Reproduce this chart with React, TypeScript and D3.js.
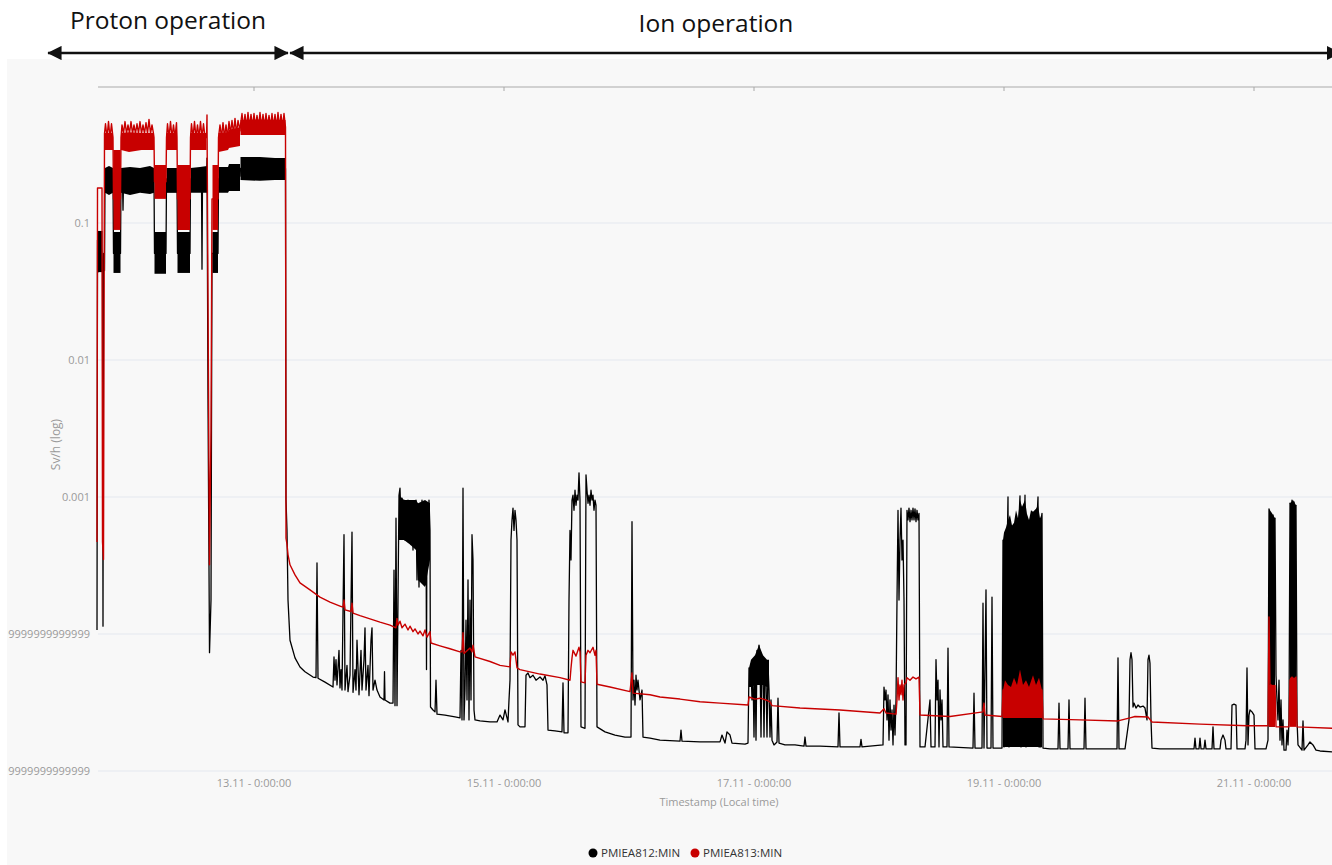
import React from "react";
import * as d3 from "d3";

type Pt = [number, number];
type BandPt = [number, number, number];

// ---- axis / legend data ----
const xTickDays = [13, 15, 17, 19, 21];
const xTickLabels = ["13.11 - 0:00:00", "15.11 - 0:00:00", "17.11 - 0:00:00", "19.11 - 0:00:00", "21.11 - 0:00:00"];
const yTickValues = [1e-5, 1e-4, 1e-3, 1e-2, 1e-1];
const yTickLabels = ["0.000009999999999999999", "0.00009999999999999999", "0.001", "0.01", "0.1"];
const seriesNames = ["PMIEA812:MIN", "PMIEA813:MIN"];
const seriesColors = ["#000000", "#c80000"];
const periodLabels = ["Proton operation", "Ion operation"];
const periodStart = [11.352, 13.288];
const periodEnd = [13.272, 21.69];
const xDomain = [11.752, 21.624];
const yDomain = [1e-5, 1];

// ---- PMIEA812 (black) ----
const protonBlack: Pt[] = [
  [11.744, 1.07e-4], [11.748, 0.075], [11.752, 0.044], [11.77, 0.085], [11.788, 0.05], [11.792, 1.14e-4],
  [11.796, 0.06], [11.804, 0.045], [11.808, 0.21], [11.872, 0.2], [11.876, 0.06], [11.932, 0.06],
  [11.936, 0.21], [11.948, 0.2], [11.952, 0.124], [11.956, 0.2], [12.2, 0.21], [12.204, 0.06],
  [12.296, 0.06], [12.3, 0.21], [12.384, 0.21], [12.388, 0.06], [12.488, 0.06], [12.492, 0.21],
  [12.58, 0.21], [12.584, 0.046], [12.588, 0.21], [12.62, 0.21], [12.624, 0.298], [12.632, 0.00513],
  [12.644, 7.3e-5], [12.656, 1.77e-4], [12.664, 0.06], [12.712, 0.06], [12.716, 0.21], [12.888, 0.22],
  [12.892, 0.25], [13.252, 0.25], [13.256, 9.5e-4],
];

const ionBlack: Pt[] = [
  [13.264, 5.7e-4], [13.272, 1.77e-4], [13.288, 9.0e-5], [13.328, 6.7e-5], [13.368, 5.74e-5], [13.408, 5.3e-5],
  [13.472, 4.85e-5], [13.496, 4.8e-5], [13.504, 3.3e-4], [13.512, 4.75e-5], [13.568, 4.45e-5], [13.632, 4.1e-5],
  [13.64, 6.8e-5], [13.648, 4.6e-5], [13.656, 6.5e-5], [13.664, 4.25e-5], [13.68, 7.6e-5], [13.688, 4.04e-5],
  [13.696, 5.5e-5], [13.704, 3.9e-5], [13.72, 5.3e-4], [13.728, 3.9e-5], [13.744, 5.9e-5], [13.752, 3.8e-5],
  [13.768, 5.0e-5], [13.784, 5.55e-4], [13.792, 3.75e-5], [13.808, 5.5e-5], [13.816, 3.9e-5], [13.824, 9.0e-5],
  [13.84, 3.6e-5], [13.856, 7.6e-5], [13.864, 3.9e-5], [13.88, 6.5e-5], [13.888, 1.11e-4], [13.896, 3.9e-5],
  [13.912, 5.9e-5], [13.92, 3.55e-5], [13.936, 9.0e-5], [13.944, 1.11e-4], [13.952, 3.9e-5], [13.968, 4.6e-5],
  [13.984, 3.9e-5], [14.008, 3.47e-5], [14.04, 3.3e-5], [14.044, 5.3e-5], [14.048, 3.3e-5], [14.088, 3.13e-5],
  [14.112, 3.13e-5], [14.12, 2.93e-4], [14.128, 3.0e-5], [14.136, 7.0e-4], [14.144, 3.0e-5], [14.152, 1.77e-4],
  [14.16, 1.03e-3], [14.168, 1.16e-3], [14.176, 6.8e-4], [14.184, 9.8e-4], [14.192, 5.3e-4], [14.2, 9.5e-4],
  [14.208, 4.85e-4], [14.216, 8.7e-4], [14.224, 6.25e-4], [14.232, 9.5e-4], [14.24, 4.85e-4], [14.248, 8.0e-4],
  [14.256, 4.5e-4], [14.264, 8.7e-4], [14.272, 4.1e-4], [14.28, 8.3e-4], [14.288, 5.7e-4], [14.296, 9.5e-4],
  [14.304, 2.48e-4], [14.312, 8.7e-4], [14.32, 2.2e-4], [14.328, 8.0e-4], [14.336, 2.6e-4], [14.344, 9.5e-4],
  [14.352, 3.47e-4], [14.36, 8.7e-4], [14.368, 2.28e-4], [14.376, 8.0e-4], [14.38, 5.5e-5], [14.384, 8.7e-4],
  [14.392, 4.85e-4], [14.4, 9.5e-4], [14.408, 5.7e-4], [14.412, 2.93e-5], [14.432, 2.79e-5], [14.448, 2.7e-5],
  [14.456, 4.6e-5], [14.464, 2.6e-5], [14.528, 2.56e-5], [14.608, 2.48e-5], [14.648, 2.44e-5], [14.656, 7.6e-5],
  [14.664, 2.36e-5], [14.672, 1.16e-3], [14.68, 2.36e-5], [14.688, 3.9e-5], [14.696, 1.26e-4], [14.704, 3.3e-5],
  [14.712, 2.48e-4], [14.72, 2.36e-5], [14.728, 1.77e-4], [14.736, 3.3e-5], [14.744, 5.3e-4], [14.752, 3.47e-4],
  [14.76, 2.79e-5], [14.768, 2.36e-5], [14.808, 2.32e-5], [14.888, 2.28e-5], [14.944, 2.28e-5], [14.968, 2.56e-5],
  [14.992, 2.36e-5], [15.008, 2.79e-5], [15.032, 2.28e-5], [15.04, 3.3e-5], [15.048, 4.6e-5], [15.056, 4.85e-4],
  [15.064, 6.8e-4], [15.072, 8.3e-4], [15.08, 5.7e-4], [15.088, 8.0e-4], [15.096, 6.8e-4], [15.104, 4.85e-4],
  [15.112, 2.17e-5], [15.128, 2.1e-5], [15.168, 2.1e-5], [15.176, 5.0e-5], [15.192, 5.2e-5], [15.208, 4.8e-5],
  [15.232, 5.0e-5], [15.256, 4.6e-5], [15.288, 4.85e-5], [15.312, 4.6e-5], [15.328, 4.95e-5], [15.344, 4.25e-5],
  [15.352, 1.99e-5], [15.408, 1.96e-5], [15.464, 1.93e-5], [15.472, 4.4e-5], [15.48, 1.9e-5], [15.512, 1.9e-5],
  [15.52, 1.77e-4], [15.528, 5.7e-4], [15.536, 3.47e-4], [15.544, 9.5e-4], [15.552, 1.03e-3], [15.56, 8.0e-4],
  [15.568, 1.12e-3], [15.576, 8.7e-4], [15.584, 1.03e-3], [15.592, 9.5e-4], [15.6, 1.5e-3], [15.608, 9.5e-4],
  [15.616, 2.1e-5], [15.648, 2.05e-5], [15.656, 1.45e-3], [15.664, 1.12e-3], [15.672, 9.0e-4], [15.68, 1.03e-3],
  [15.688, 8.7e-4], [15.696, 1.12e-3], [15.704, 9.5e-4], [15.712, 1.03e-3], [15.72, 8.0e-4], [15.728, 9.5e-4],
  [15.736, 8.7e-4], [15.744, 2.1e-5], [15.808, 1.93e-5], [15.888, 1.83e-5], [15.968, 1.77e-5], [16.016, 1.77e-5],
  [16.024, 6.6e-4], [16.032, 3.3e-5], [16.04, 4.6e-5], [16.048, 3.03e-5], [16.056, 5.0e-5], [16.064, 3.9e-5],
  [16.072, 4.6e-5], [16.088, 3.3e-5], [16.104, 3.9e-5], [16.112, 1.77e-5], [16.168, 1.74e-5], [16.248, 1.68e-5],
  [16.408, 1.65e-5], [16.416, 1.99e-5], [16.424, 1.65e-5], [16.568, 1.63e-5], [16.728, 1.63e-5], [16.744, 1.83e-5],
  [16.768, 1.6e-5], [16.784, 1.93e-5], [16.808, 1.83e-5], [16.824, 1.6e-5], [16.928, 1.57e-5], [16.952, 1.6e-5],
  [16.96, 5.65e-5], [16.968, 4.6e-5], [16.976, 5.9e-5], [16.984, 3.3e-5], [16.992, 5.5e-5], [17.0, 1.77e-5],
  [17.008, 6.5e-5], [17.016, 1.68e-5], [17.024, 7.6e-5], [17.032, 5.0e-5], [17.04, 8.3e-5], [17.048, 6.5e-5],
  [17.056, 1.77e-5], [17.064, 7.0e-5], [17.072, 5.9e-5], [17.08, 1.77e-5], [17.088, 6.5e-5], [17.096, 4.6e-5],
  [17.104, 1.77e-5], [17.112, 5.9e-5], [17.12, 3.9e-5], [17.128, 1.77e-5], [17.136, 3.3e-5], [17.144, 1.68e-5],
  [17.16, 1.55e-5], [17.184, 1.63e-5], [17.192, 3.4e-5], [17.2, 1.6e-5], [17.248, 1.55e-5], [17.328, 1.55e-5],
  [17.4, 1.52e-5], [17.408, 1.77e-5], [17.416, 1.52e-5], [17.528, 1.52e-5], [17.672, 1.5e-5], [17.68, 2.65e-5],
  [17.688, 1.5e-5], [17.848, 1.5e-5], [17.856, 1.7e-5], [17.864, 1.5e-5], [18.032, 1.55e-5], [18.04, 4.1e-5],
  [18.048, 3.3e-5], [18.056, 3.9e-5], [18.064, 2.36e-5], [18.072, 3.6e-5], [18.08, 1.68e-5], [18.088, 3.3e-5],
  [18.096, 1.99e-5], [18.104, 2.79e-5], [18.112, 1.55e-5], [18.12, 3.03e-5], [18.128, 1.83e-5], [18.136, 3.3e-5],
  [18.144, 1.77e-4], [18.152, 8.0e-4], [18.16, 1.77e-4], [18.168, 4.85e-4], [18.176, 8.3e-4], [18.184, 3.47e-4],
  [18.192, 4.85e-4], [18.2, 1.77e-4], [18.208, 1.55e-5], [18.216, 1.55e-5], [18.224, 8.0e-4], [18.232, 6.8e-4],
  [18.24, 8.3e-4], [18.248, 6.6e-4], [18.256, 8.0e-4], [18.264, 6.8e-4], [18.272, 8.3e-4], [18.28, 6.8e-4],
  [18.288, 8.2e-4], [18.296, 6.6e-4], [18.304, 8.0e-4], [18.312, 6.8e-4], [18.32, 7.6e-4], [18.328, 1.5e-5],
  [18.368, 1.5e-5], [18.408, 3.3e-5], [18.416, 1.5e-5], [18.448, 1.5e-5], [18.456, 6.5e-5], [18.464, 3.3e-5],
  [18.472, 4.6e-5], [18.48, 1.5e-5], [18.488, 3.9e-5], [18.496, 2.36e-5], [18.504, 3.3e-5], [18.512, 1.5e-5],
  [18.544, 1.5e-5], [18.552, 7.9e-5], [18.56, 1.5e-5], [18.752, 1.47e-5], [18.76, 3.7e-5], [18.768, 1.47e-5],
  [18.824, 1.47e-5], [18.832, 1.68e-4], [18.84, 1.47e-5], [18.856, 2.1e-4], [18.864, 1.47e-5], [18.896, 1.47e-5],
  [18.904, 1.86e-4], [18.912, 1.47e-5], [18.984, 1.47e-5], [18.992, 4.85e-4], [19.0, 1.5e-5], [19.032, 1.0e-3],
  [19.04, 1.5e-5], [19.128, 1.02e-3], [19.136, 1.5e-5], [19.168, 1.03e-3], [19.176, 1.5e-5], [19.272, 1.0e-3],
  [19.28, 1.5e-5], [19.296, 1.5e-5], [19.304, 7.6e-4], [19.312, 1.47e-5], [19.368, 1.45e-5], [19.432, 1.45e-5], [19.44, 3.13e-5],
  [19.448, 1.45e-5], [19.512, 1.45e-5], [19.52, 3.3e-5], [19.528, 1.45e-5], [19.64, 1.45e-5], [19.648, 3.4e-5],
  [19.656, 1.45e-5], [19.904, 1.45e-5], [19.912, 6.7e-5], [19.92, 1.45e-5], [19.968, 1.45e-5], [20.0, 2.36e-5],
  [20.008, 6.5e-5], [20.016, 7.3e-5], [20.024, 6.5e-5], [20.032, 2.93e-5], [20.04, 3.13e-5], [20.056, 2.88e-5],
  [20.072, 3.03e-5], [20.088, 2.93e-5], [20.112, 2.98e-5], [20.128, 2.88e-5], [20.144, 2.36e-5], [20.152, 6.5e-5],
  [20.16, 7.0e-5], [20.168, 6.1e-5], [20.176, 2.36e-5], [20.184, 1.47e-5], [20.248, 1.45e-5], [20.52, 1.45e-5],
  [20.528, 1.74e-5], [20.536, 1.45e-5], [20.56, 1.45e-5], [20.568, 1.74e-5], [20.576, 1.45e-5], [20.6, 1.45e-5],
  [20.608, 1.68e-5], [20.616, 1.45e-5], [20.664, 1.45e-5], [20.672, 2.1e-5], [20.68, 1.45e-5], [20.728, 1.45e-5],
  [20.736, 1.68e-5], [20.752, 1.83e-5], [20.768, 1.68e-5], [20.776, 1.45e-5], [20.816, 1.45e-5], [20.824, 3.03e-5],
  [20.84, 3.08e-5], [20.856, 3.03e-5], [20.864, 1.45e-5], [20.928, 1.45e-5], [20.936, 1.68e-5], [20.944, 5.65e-5],
  [20.952, 1.55e-5], [20.96, 2.56e-5], [20.968, 2.79e-5], [20.984, 2.7e-5], [21.0, 2.56e-5], [21.008, 1.45e-5],
  [21.096, 1.45e-5], [21.112, 1.68e-5], [21.12, 8.2e-4], [21.128, 1.77e-4], [21.136, 7.6e-4], [21.144, 3.47e-4],
  [21.152, 7.4e-4], [21.16, 3.47e-4], [21.168, 7.0e-4], [21.176, 5.0e-5], [21.184, 3.3e-5], [21.192, 2.36e-5],
  [21.2, 4.6e-5], [21.208, 1.68e-5], [21.216, 3.3e-5], [21.224, 1.55e-5], [21.232, 2.36e-5], [21.24, 1.42e-5],
  [21.256, 1.42e-5], [21.264, 1.99e-5], [21.272, 1.55e-5], [21.28, 2.36e-5], [21.288, 9.0e-4], [21.296, 1.77e-4],
  [21.304, 9.5e-4], [21.312, 3.47e-4], [21.32, 9.2e-4], [21.328, 1.77e-4], [21.336, 8.7e-4], [21.344, 2.36e-5],
  [21.352, 1.55e-5], [21.384, 1.42e-5], [21.392, 2.32e-5], [21.4, 1.42e-5], [21.432, 1.55e-5], [21.448, 1.63e-5],
  [21.472, 1.55e-5], [21.496, 1.42e-5], [21.528, 1.4e-5], [21.624, 1.38e-5],
];

// dense min/max envelopes [day, min, max]
const blackBands: BandPt[][] = [
  [[11.752, 0.0438, 0.0875], [11.788, 0.0438, 0.0875]],
  [[11.808, 0.166, 0.252], [11.84, 0.16, 0.261], [11.872, 0.166, 0.252]],
  [[11.876, 0.0432, 0.086], [11.932, 0.0432, 0.086]],
  [[11.936, 0.166, 0.252], [12.008, 0.16, 0.256], [12.088, 0.166, 0.252], [12.168, 0.163, 0.261], [12.2, 0.166, 0.252]],
  [[12.204, 0.0426, 0.086], [12.296, 0.0426, 0.086]],
  [[12.3, 0.166, 0.252], [12.384, 0.166, 0.252]],
  [[12.388, 0.0432, 0.086], [12.488, 0.0432, 0.086]],
  [[12.492, 0.166, 0.252], [12.568, 0.166, 0.256], [12.624, 0.166, 0.261]],
  [[12.668, 0.0432, 0.086], [12.712, 0.0432, 0.086]],
  [[12.716, 0.166, 0.256], [12.792, 0.166, 0.256], [12.8, 0.171, 0.27], [12.888, 0.171, 0.27]],
  [[12.892, 0.206, 0.303], [13.048, 0.203, 0.303], [13.168, 0.206, 0.298], [13.252, 0.206, 0.298]],
  [[14.16, 4.85e-4, 1.03e-3], [14.2, 4.85e-4, 9.5e-4], [14.248, 4.5e-4, 9.5e-4], [14.296, 4.1e-4, 9.5e-4],
   [14.312, 2.48e-4, 9.0e-4], [14.368, 2.2e-4, 9.5e-4], [14.408, 3.47e-4, 9.0e-4]],
  [[16.96, 4.1e-5, 5.65e-5], [16.976, 4.1e-5, 6.5e-5], [17.008, 4.25e-5, 7.0e-5], [17.04, 4.25e-5, 8.3e-5],
   [17.072, 4.25e-5, 7.0e-5], [17.104, 4.1e-5, 6.5e-5], [17.12, 4.1e-5, 6.5e-5]],
  [[18.992, 1.5e-5, 4.85e-4], [19.0, 1.5e-5, 5.5e-4], [19.016, 1.5e-5, 6.0e-4], [19.032, 1.5e-5, 6.8e-4],
   [19.048, 1.5e-5, 7.4e-4], [19.064, 1.5e-5, 6.2e-4], [19.08, 1.5e-5, 6.5e-4], [19.096, 1.5e-5, 8.0e-4],
   [19.112, 1.5e-5, 7.0e-4], [19.128, 1.5e-5, 9.5e-4], [19.144, 1.5e-5, 8.5e-4], [19.168, 1.5e-5, 9.5e-4],
   [19.184, 1.5e-5, 7.5e-4], [19.2, 1.5e-5, 6.8e-4], [19.216, 1.5e-5, 8.0e-4], [19.232, 1.5e-5, 7.8e-4],
   [19.256, 1.5e-5, 8.2e-4], [19.272, 1.5e-5, 8.7e-4], [19.288, 1.5e-5, 7.0e-4], [19.304, 1.5e-5, 7.6e-4]],
  [[21.12, 2.1e-5, 8.2e-4], [21.144, 2.1e-5, 7.6e-4], [21.168, 2.1e-5, 7.0e-4]],
  [[21.288, 2.3e-5, 9.0e-4], [21.312, 2.3e-5, 9.5e-4], [21.336, 2.3e-5, 8.7e-4]],
];

// ---- PMIEA813 (red) ----
const protonRed: Pt[] = [
  [11.744, 4.7e-4], [11.748, 0.18], [11.784, 0.18], [11.788, 4.7e-4], [11.796, 3.5e-4], [11.804, 0.45],
  [11.812, 0.53], [11.824, 0.42], [11.836, 0.55], [11.848, 0.42], [11.86, 0.53], [11.872, 0.42],
  [11.876, 0.15], [11.932, 0.15], [11.936, 0.42],
  [11.944, 0.52], [11.956, 0.45], [11.968, 0.55], [11.98, 0.45], [11.992, 0.52], [12.004, 0.45], [12.016, 0.55],
  [12.028, 0.45], [12.04, 0.52], [12.052, 0.45], [12.064, 0.53], [12.076, 0.45], [12.088, 0.55], [12.1, 0.45],
  [12.112, 0.52], [12.124, 0.45], [12.136, 0.54], [12.148, 0.45], [12.16, 0.57], [12.172, 0.45], [12.184, 0.52],
  [12.196, 0.45], [12.2, 0.42], [12.204, 0.2], [12.296, 0.2], [12.3, 0.42],
  [12.308, 0.53], [12.32, 0.42], [12.332, 0.55], [12.344, 0.42], [12.356, 0.52], [12.368, 0.42], [12.38, 0.54],
  [12.384, 0.42], [12.388, 0.15], [12.488, 0.15], [12.492, 0.42],
  [12.5, 0.53], [12.512, 0.42], [12.524, 0.55], [12.536, 0.42], [12.548, 0.52], [12.56, 0.42], [12.572, 0.55],
  [12.584, 0.42], [12.596, 0.53], [12.608, 0.42], [12.62, 0.42], [12.624, 0.614], [12.632, 0.0275],
  [12.644, 3.2e-4], [12.656, 3.1e-3], [12.664, 0.15], [12.712, 0.15], [12.716, 0.42],
  [12.728, 0.52], [12.74, 0.42], [12.752, 0.54], [12.764, 0.42], [12.776, 0.52], [12.788, 0.42], [12.8, 0.55],
  [12.812, 0.45], [12.824, 0.56], [12.836, 0.45], [12.848, 0.58], [12.86, 0.45], [12.872, 0.56], [12.888, 0.47],
  [12.892, 0.52], [12.904, 0.63], [12.916, 0.5], [12.928, 0.62], [12.94, 0.5], [12.952, 0.64], [12.964, 0.5],
  [12.976, 0.62], [12.988, 0.5], [13.0, 0.63], [13.012, 0.5], [13.024, 0.61], [13.036, 0.5], [13.048, 0.64],
  [13.06, 0.5], [13.072, 0.62], [13.084, 0.5], [13.096, 0.63], [13.108, 0.5], [13.12, 0.61], [13.132, 0.5],
  [13.144, 0.63], [13.156, 0.5], [13.168, 0.62], [13.18, 0.5], [13.192, 0.64], [13.204, 0.5], [13.216, 0.62],
  [13.228, 0.5], [13.24, 0.63], [13.252, 0.5], [13.256, 5.0e-4],
];

const ionRed: Pt[] = [
  [13.264, 4.5e-4], [13.272, 3.8e-4], [13.288, 3.2e-4], [13.328, 2.7e-4], [13.368, 2.36e-4], [13.448, 2.1e-4],
  [13.528, 1.86e-4], [13.608, 1.71e-4], [13.688, 1.6e-4], [13.712, 1.57e-4], [13.72, 1.77e-4], [13.728, 1.5e-4],
  [13.776, 1.46e-4], [13.784, 1.68e-4], [13.792, 1.42e-4], [13.848, 1.36e-4], [13.928, 1.29e-4], [14.008, 1.22e-4],
  [14.088, 1.16e-4], [14.136, 1.11e-4], [14.144, 1.3e-4], [14.152, 1.16e-4], [14.168, 1.24e-4], [14.184, 1.11e-4],
  [14.208, 1.18e-4], [14.232, 1.07e-4], [14.248, 1.14e-4], [14.272, 1.04e-4], [14.288, 1.09e-4], [14.312, 1.0e-4],
  [14.328, 1.05e-4], [14.352, 9.7e-5], [14.368, 1.07e-4], [14.384, 9.5e-5], [14.408, 1.04e-4], [14.416, 8.6e-5],
  [14.488, 8.2e-5], [14.568, 7.8e-5], [14.648, 7.4e-5], [14.664, 7.4e-5], [14.672, 1.02e-4], [14.68, 7.2e-5],
  [14.728, 7.9e-5], [14.744, 7.4e-5], [14.752, 8.3e-5], [14.768, 6.8e-5], [14.888, 6.3e-5], [14.968, 5.9e-5],
  [15.048, 5.75e-5], [15.056, 7.4e-5], [15.072, 7.0e-5], [15.088, 7.4e-5], [15.104, 5.65e-5], [15.128, 5.5e-5],
  [15.288, 5.1e-5], [15.448, 4.8e-5], [15.528, 4.6e-5], [15.536, 5.65e-5], [15.544, 6.7e-5], [15.552, 7.6e-5],
  [15.576, 6.9e-5], [15.6, 8.0e-5], [15.608, 7.4e-5], [15.616, 4.47e-5], [15.648, 4.4e-5], [15.656, 7.0e-5],
  [15.672, 7.6e-5], [15.688, 7.3e-5], [15.712, 8.0e-5], [15.728, 7.0e-5], [15.736, 7.6e-5], [15.744, 4.3e-5],
  [15.848, 4.1e-5], [16.008, 3.8e-5], [16.024, 5.2e-5], [16.032, 3.7e-5], [16.168, 3.6e-5], [16.248, 3.47e-5],
  [16.408, 3.35e-5], [16.568, 3.2e-5], [16.728, 3.13e-5], [16.952, 3.03e-5], [16.96, 3.47e-5], [17.008, 3.35e-5],
  [17.048, 3.4e-5], [17.096, 3.3e-5], [17.128, 3.2e-5], [17.144, 3.0e-5], [17.368, 2.88e-5], [17.688, 2.79e-5],
  [18.008, 2.65e-5], [18.04, 2.85e-5], [18.056, 2.65e-5], [18.136, 2.6e-5], [18.144, 3.3e-5], [18.152, 4.8e-5],
  [18.16, 3.3e-5], [18.168, 4.25e-5], [18.176, 3.6e-5], [18.184, 4.6e-5], [18.192, 3.3e-5], [18.2, 4.25e-5],
  [18.216, 4.4e-5], [18.224, 4.8e-5], [18.248, 4.6e-5], [18.272, 4.85e-5], [18.296, 4.7e-5], [18.32, 4.85e-5],
  [18.328, 2.56e-5], [18.568, 2.5e-5], [18.832, 2.7e-5], [18.84, 3.13e-5], [18.848, 2.56e-5], [18.984, 2.5e-5],
  [18.992, 3.9e-5], [19.304, 3.9e-5], [19.312, 2.4e-5], [19.608, 2.36e-5], [19.912, 2.32e-5], [20.008, 2.44e-5],
  [20.048, 2.5e-5], [20.152, 2.48e-5], [20.184, 2.28e-5], [20.568, 2.2e-5], [20.944, 2.14e-5], [21.112, 2.14e-5],
  [21.12, 1.33e-4], [21.128, 3.9e-5], [21.136, 4.25e-5], [21.152, 4.04e-5], [21.168, 4.2e-5], [21.176, 2.1e-5],
  [21.28, 2.1e-5], [21.288, 4.6e-5], [21.304, 4.85e-5], [21.32, 4.6e-5], [21.336, 4.85e-5], [21.344, 2.1e-5],
  [21.624, 2.05e-5],
];

const redBands: BandPt[][] = [
  [[11.804, 0.341, 0.454], [11.872, 0.341, 0.454]],
  [[11.876, 0.089, 0.341], [11.932, 0.089, 0.341]],
  [[11.936, 0.341, 0.454], [12.0, 0.33, 0.46], [12.1, 0.341, 0.454], [12.2, 0.341, 0.454]],
  [[12.204, 0.15, 0.265], [12.296, 0.15, 0.265]],
  [[12.3, 0.341, 0.454], [12.384, 0.341, 0.454]],
  [[12.388, 0.089, 0.265], [12.488, 0.089, 0.265]],
  [[12.492, 0.341, 0.454], [12.62, 0.341, 0.454]],
  [[12.668, 0.089, 0.265], [12.712, 0.089, 0.265]],
  [[12.716, 0.33, 0.454], [12.792, 0.341, 0.46], [12.8, 0.353, 0.48], [12.888, 0.365, 0.5]],
  [[12.892, 0.439, 0.565], [13.048, 0.439, 0.57], [13.252, 0.439, 0.565]],
  [[18.992, 2.44e-5, 3.9e-5], [19.008, 2.44e-5, 4.6e-5], [19.032, 2.44e-5, 4.25e-5], [19.056, 2.44e-5, 4.1e-5],
   [19.08, 2.44e-5, 4.8e-5], [19.104, 2.44e-5, 4.25e-5], [19.128, 2.44e-5, 5.5e-5], [19.152, 2.44e-5, 4.25e-5],
   [19.176, 2.44e-5, 4.6e-5], [19.2, 2.44e-5, 4.1e-5], [19.232, 2.44e-5, 5.0e-5], [19.256, 2.44e-5, 4.25e-5],
   [19.28, 2.44e-5, 4.8e-5], [19.304, 2.44e-5, 3.9e-5]],
  [[21.12, 2.1e-5, 4.25e-5], [21.168, 2.1e-5, 4.25e-5]],
  [[21.288, 2.1e-5, 4.8e-5], [21.336, 2.1e-5, 4.8e-5]],
];

const toDate = (d: number) => new Date(Date.UTC(2018, 10, 1) + (d - 1) * 864e5);

export default function App() {
  const W = 1332, H = 865;
  const left = 98, right = 1332, top = 86, bottom = 771;
  const xs = d3.scaleUtc().domain(xDomain.map(toDate)).range([left, right]);
  const ys = d3.scaleLog().domain(yDomain).range([bottom, top]);
  const line = d3.line<Pt>().x((p) => xs(toDate(p[0]))).y((p) => ys(p[1]));
  const area = d3.area<BandPt>().x((p) => xs(toDate(p[0]))).y0((p) => ys(p[1])).y1((p) => ys(p[2]));
  const black = [...protonBlack, ...ionBlack];
  const red = [...protonRed, ...ionRed];
  const font = "'Open Sans', 'Noto Sans', sans-serif";
  const axisColor = "#9a9a9a";

  return (
    <svg width={W} height={H} style={{ position: "absolute", left: 0, top: 0, background: "#fff" }}>
      <defs>
        <clipPath id="plotClip">
          <rect x={96} y={top - 2} width={right - 96} height={bottom - top + 6} />
        </clipPath>
        <clipPath id="labelClip">
          <rect x={8} y={0} width={W} height={H} />
        </clipPath>
        <marker id="arrowHead" viewBox="0 0 10 10" refX="9.5" refY="5" markerWidth="5.5" markerHeight="5.5" orient="auto-start-reverse">
          <path d="M0,0 L10,5 L0,10 z" fill="#111" />
        </marker>
      </defs>
      <rect x={0} y={0} width={W} height={H} fill="#ffffff" />
      <rect x={7} y={59} width={W - 7} height={H - 59} fill="#f8f8f8" />

      {yTickValues.map((v, i) => (
        <line key={"g" + i} x1={left} x2={right} y1={ys(v)} y2={ys(v)} stroke="#e4e8ef" strokeWidth={1} />
      ))}
      <line x1={left} x2={right} y1={top + 1} y2={top + 1} stroke="#c4c4c4" strokeWidth={1.6} />
      {xTickDays.map((d, i) => (
        <line key={"t" + i} x1={xs(toDate(d))} x2={xs(toDate(d))} y1={top + 1} y2={top + 5} stroke="#a8a8a8" strokeWidth={1} />
      ))}

      <g clipPath="url(#plotClip)">
        {blackBands.map((b, i) => (
          <path key={"bb" + i} d={area(b) || ""} fill={seriesColors[0]} />
        ))}
        <path d={line(black) || ""} fill="none" stroke={seriesColors[0]} strokeWidth={1.3} strokeLinejoin="round" />
        {redBands.map((b, i) => (
          <path key={"rb" + i} d={area(b) || ""} fill={seriesColors[1]} />
        ))}
        <path d={line(red) || ""} fill="none" stroke={seriesColors[1]} strokeWidth={1.4} strokeLinejoin="round" />
      </g>

      <g clipPath="url(#labelClip)" fontFamily={font} fontSize={11} fill={axisColor}>
        {yTickValues.map((v, i) => (
          <text key={"yl" + i} x={90} y={ys(v) + 4} textAnchor="end">{yTickLabels[i]}</text>
        ))}
      </g>
      <text transform={`translate(60,${(top + bottom) / 2 + 16}) rotate(-90)`} textAnchor="middle" fontFamily={font} fontSize={12} fill={axisColor}>
        Sv/h (log)
      </text>

      {xTickDays.map((d, i) => (
        <text key={"xl" + i} x={xs(toDate(d))} y={787} textAnchor="middle" fontFamily={font} fontSize={11} fill={axisColor}>
          {xTickLabels[i]}
        </text>
      ))}
      <text x={719} y={806} textAnchor="middle" fontFamily={font} fontSize={11} fill={axisColor}>
        Timestamp (Local time)
      </text>

      {seriesNames.map((n, i) => (
        <g key={"lg" + i} transform={`translate(${593 + i * 102},853)`}>
          <circle cx={0} cy={0} r={4.5} fill={seriesColors[i]} />
          <text x={8} y={4} fontFamily={font} fontSize={11.5} fill="#333">{n}</text>
        </g>
      ))}

      {periodLabels.map((lab, i) => (
        <g key={"pa" + i}>
          <line x1={xs(toDate(periodStart[i]))} x2={xs(toDate(periodEnd[i]))} y1={53} y2={53}
            stroke="#111" strokeWidth={2.6} markerStart="url(#arrowHead)" markerEnd="url(#arrowHead)" />
          <text x={i === 0 ? 168 : 716} y={i === 0 ? 29 : 32} textAnchor="middle" fontFamily={font} fontSize={24.5} fill="#111">
            {lab}
          </text>
        </g>
      ))}
    </svg>
  );
}
